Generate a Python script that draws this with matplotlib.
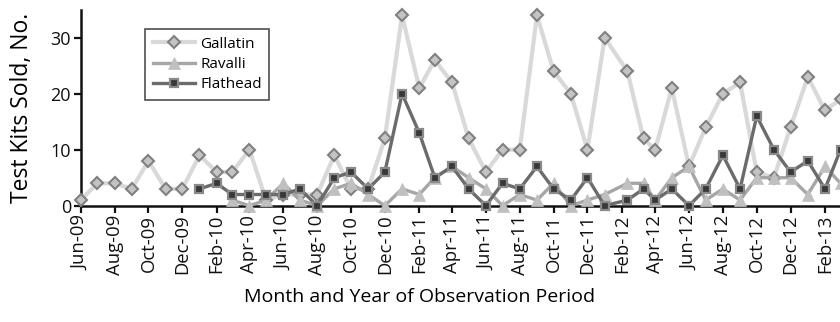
import matplotlib
matplotlib.use("Agg")
import matplotlib.pyplot as plt
import matplotlib.dates as mdates
import pandas as pd
import numpy as np

plt.rcParams['font.family'] = ['Open Sans', 'DejaVu Sans']

# sample dates (monthly, two early-2012 samples fall mid-month)
dates = ["2009-06-01", "2009-07-01", "2009-08-01", "2009-09-01", "2009-10-01",
         "2009-11-01", "2009-12-01", "2010-01-01", "2010-02-01", "2010-03-01",
         "2010-04-01", "2010-05-01", "2010-06-01", "2010-07-01", "2010-08-01",
         "2010-09-01", "2010-10-01", "2010-11-01", "2010-12-01", "2011-01-01",
         "2011-02-01", "2011-03-01", "2011-04-01", "2011-05-01", "2011-06-01",
         "2011-07-01", "2011-08-01", "2011-09-01", "2011-10-01", "2011-11-01",
         "2011-12-01", "2012-01-01", "2012-02-11", "2012-03-11", "2012-04-01",
         "2012-05-01", "2012-06-01", "2012-07-01", "2012-08-01", "2012-09-01",
         "2012-10-01", "2012-11-01", "2012-12-01", "2013-01-01", "2013-02-01",
         "2013-03-01"]

gallatin = [1, 4, 4, 3, 8, 3, 3, 9, 6, 6,
            10, 1, 2, 2, 2, 9, 3, 3, 12, 34,
            21, 26, 22, 12, 6, 10, 10, 34, 24, 20,
            10, 30, 24, 12, 10, 21, 7, 14, 20, 22,
            6, 5, 14, 23, 17, 19]

ravalli = [None] * 9 + [1, 0, 1, 4, 1, 0, 3, 4, 2, 0,
                        3, 2, 5, 7, 5, 3, 0, 2, 1, 4,
                        0, 1, 2, 4, 4, 1, 5, 7, 1, 3,
                        1, 5, 5, 5, 2, 7, 4]

flathead = [None] * 7 + [3, 4, 2, 2, 2, 2, 3, 0, 5, 6,
                         3, 6, 20, 13, 5, 7, 3, 0, 4, 3,
                         7, 3, 1, 5, 0, 1, 3, 1, 3, 0,
                         3, 9, 3, 16, 10, 6, 8, 3, 10]

x = pd.to_datetime(dates)
g = np.array(gallatin, dtype=float)
r = np.array([np.nan if v is None else v for v in ravalli], dtype=float)
f = np.array([np.nan if v is None else v for v in flathead], dtype=float)

fig = plt.figure(figsize=(8.4, 3.22), dpi=100)

# axes runs past the right edge, like the cropped original
x0 = pd.Timestamp("2009-06-01")
x1 = pd.Timestamp("2013-03-25")
px_per_day = (825 - 80.7) / (pd.Timestamp("2013-02-01") - x0).days
width_px = (x1 - x0).days * px_per_day
ax = fig.add_axes([80.7 / 840, 1 - 205.7 / 322, width_px / 840, 196 / 322])

ax.plot(x, g, color='#d9d9d9', lw=3.0, marker='D', ms=6.5,
        mfc='#c4c4c4', mec='#808080', mew=1.5, clip_on=False, zorder=3,
        label='Gallatin')
ax.plot(x, r, color='#a6a6a6', lw=2.4, marker='^', ms=8.5,
        mfc='#c0c0c0', mec='#c0c0c0', mew=0.5, clip_on=False, zorder=4,
        label='Ravalli')
ax.plot(x, f, color='#6b6b6b', lw=2.4, marker='s', ms=6,
        mfc='#383838', mec='#8a8a8a', mew=1.6, clip_on=False, zorder=5,
        label='Flathead')

ax.set_xlim(x0, x1)
ax.set_ylim(0, 35)
ax.set_yticks([0, 10, 20, 30])

ax.xaxis.set_major_locator(mdates.MonthLocator(bymonth=[2, 4, 6, 8, 10, 12]))
ax.xaxis.set_major_formatter(mdates.DateFormatter('%b-%y'))
plt.setp(ax.get_xticklabels(), rotation=90)

for s in ['top', 'right']:
    ax.spines[s].set_visible(False)
for s in ['left', 'bottom']:
    ax.spines[s].set_linewidth(1.8)
    ax.spines[s].set_color('#111111')

ax.tick_params(axis='x', direction='out', length=5, width=1.6, pad=1.5,
               labelsize=13.3, colors='#111111')
ax.tick_params(axis='y', direction='out', length=5, width=1.6, pad=2,
               labelsize=13, colors='#111111')

ax.set_ylabel('Test Kits Sold, No.', fontsize=16.5, labelpad=12)
fig.text(420 / 840, 1 - 297 / 322, 'Month and Year of Observation Period',
         fontsize=14, ha='center', va='center')

leg = ax.legend(loc='upper left', bbox_to_anchor=(145 / 840, 1 - 29 / 322),
                bbox_transform=fig.transFigure, frameon=True, fancybox=False,
                fontsize=11, handlelength=2.8, handletextpad=0.3,
                labelspacing=0.35, borderpad=0.5, borderaxespad=0)
leg.get_frame().set_edgecolor('#222222')
leg.get_frame().set_linewidth(1.2)

fig.savefig('out.png', dpi=100)
